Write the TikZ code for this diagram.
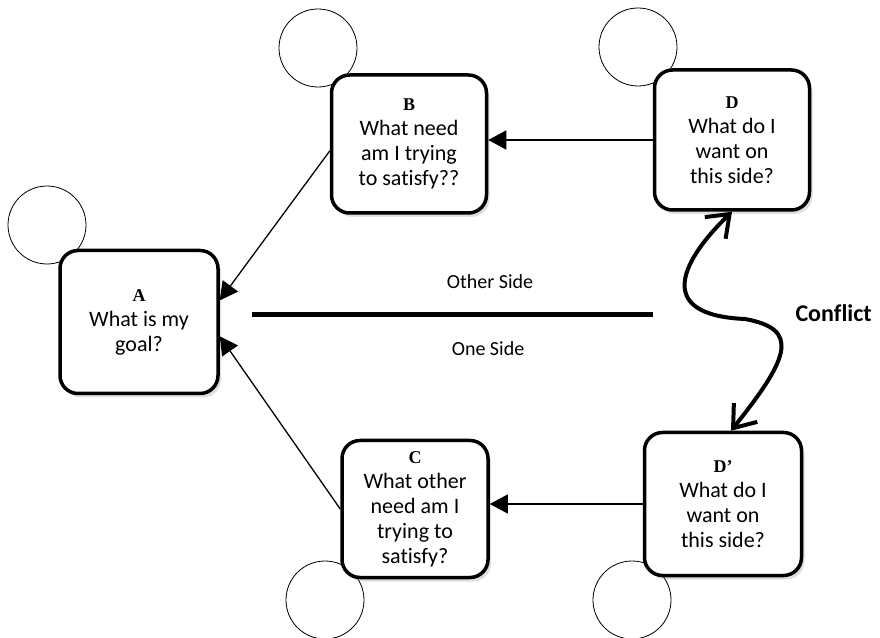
\documentclass[tikz,border=0pt]{standalone}
\usepackage{fontspec}
\setmainfont{Carlito}[Ligatures=CommonOff]
\newfontfamily\letterfont{Liberation Serif}
\usepackage{tikz}
\usetikzlibrary{arrows.meta, shadows}
\tikzstyle{qbox}=[rectangle, draw, line width=3.5pt, rounded corners=18pt, fill=white, align=center, inner sep=0pt, font=\fontsize{22}{25}\selectfont, drop shadow={shadow xshift=3pt, shadow yshift=-4pt, opacity=0.25}]
\tikzstyle{spot}=[circle, draw, line width=0.8pt, fill=white, minimum size=78pt, inner sep=0pt]
\tikzstyle{link}=[line width=1.3pt, -{Triangle[length=18pt,width=19pt]}]
\tikzstyle{side}=[font=\fontsize{20}{24}\selectfont]
\newcommand{\qbox}{\node[qbox]}
\newcommand{\spot}{\node[spot]}
\newcommand{\ltr}[1]{{\letterfont\bfseries\fontsize{18}{20}\selectfont #1}}

\begin{document}
\begin{tikzpicture}[x=1pt, y=1pt]
    \useasboundingbox (0,0) rectangle (880,637);
    % circles at the corners
    \spot (ca) at (47,412) {};
    \spot (cb) at (318,589) {};
    \spot (cd) at (638,590) {};
    \spot (cc) at (325,37) {};
    \spot (cdp) at (632,37) {};
    % question boxes
    \qbox (a) at (139,315) [minimum width=158pt, minimum height=143pt] {\ltr{A}\\What is my\\goal?};
    \qbox (b) at (409,493) [minimum width=155pt, minimum height=138pt] {\ltr{B}\\What need\\am I trying\\to satisfy??};
    \qbox (d) at (732,497) [minimum width=155pt, minimum height=140pt] {\ltr{D}\\What do I\\want on\\this side?};
    \qbox (c) at (415,128) [minimum width=146pt, minimum height=137pt] {\ltr{C}\\What other\\need am I\\trying to\\satisfy?};
    \qbox (dp) at (723,133) [minimum width=157pt, minimum height=143pt] {\ltr{D’}\\What do I\\want on\\this side?};
    \path[link]
        (b.185) edge (a.15)
        (c.west) edge (a.-10)
        (d.west) edge (d.west -| b.east)
        (dp.west) edge (dp.west -| c.east)
    ;
    % dividing line
    \coordinate (sl) at (252,322);
    \coordinate (sr) at (653,322);
    \draw[line width=5pt] (sl) -- (sr);
    \node[side] (other) at (490,355) {Other Side};
    \node[side] (one) at (488,288) {One Side};
    % conflict
    \draw[line width=4pt, {Straight Barb[length=20pt,width=30pt]}-{Straight Barb[length=20pt,width=30pt]}]
        ([xshift=8pt]dp.north) .. controls (790,280) and (800,308) .. (745,318)
        .. controls (650,322) and (685,380) .. (d.south);
    \node[font=\bfseries\fontsize{24}{28}\selectfont, anchor=west] (conf) at (792,324) {Conflict};
\end{tikzpicture}
\end{document}
